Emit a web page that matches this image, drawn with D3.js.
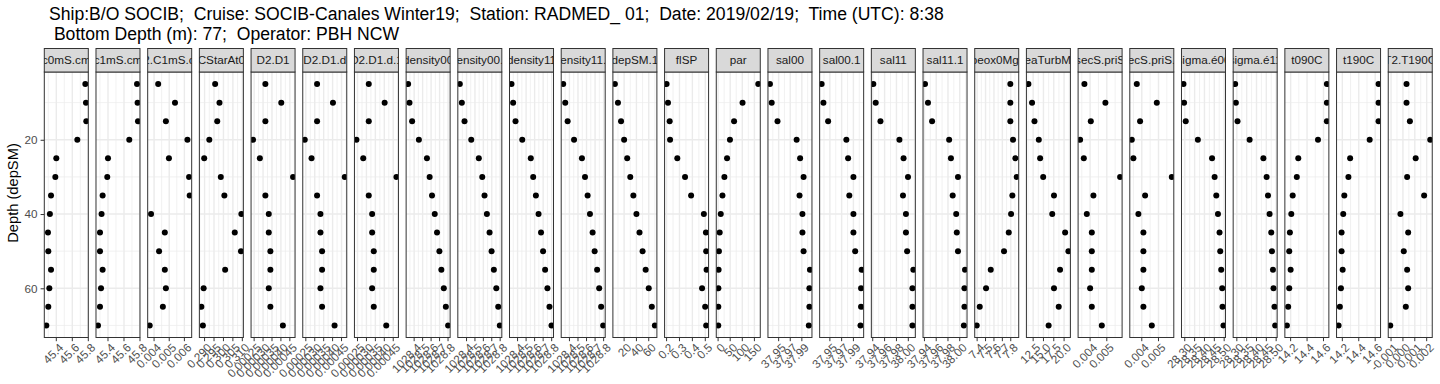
<!DOCTYPE html>
<html>
<head>
<meta charset="utf-8">
<script src="https://cdn.jsdelivr.net/npm/d3@7"></script>
<style>
  body { margin: 0; background: #fff; }
  text { font-family: "Liberation Sans", Arial, Helvetica, sans-serif; white-space: pre; }
</style>
</head>
<body>
<svg id="chart" width="1440" height="384"></svg>
<script>
//----------- DATA ---------------------------//
var titleLines = [
  "Ship:B/O SOCIB;  Cruise: SOCIB-Canales Winter19;  Station: RADMED_ 01;  Date: 2019/02/19;  Time (UTC): 8:38",
  " Bottom Depth (m): 77;  Operator: PBH NCW"
];
var yTitle = "Depth (depSM)";
var depths = [5, 10, 15, 20, 25, 30, 35, 40, 45, 50, 55, 60, 65, 70];
var yTicks = [20, 40, 60];

var varNames = ["c0mS.cm", "c1mS.cm", "C2.C1mS.cm", "CStarAt0", "D2.D1", "D2.D1.d", "D2.D1.d.1",
  "density00", "density00.1", "density11", "density11.1", "depSM.1", "flSP", "par",
  "sal00", "sal00.1", "sal11", "sal11.1", "sbeox0Mg.L", "seaTurbMtr", "secS.priS", "secS.priS.1",
  "sigma.é00", "sigma.é11", "t090C", "t190C", "T2.T190C"];

var c0mS_cm     = [45.763, 45.771, 45.775, 45.663, 45.400, 45.388, 45.334, 45.320, 45.296, 45.300, 45.334, 45.313, 45.300, 45.275];
var c1mS_cm     = [45.763, 45.770, 45.775, 45.666, 45.400, 45.391, 45.333, 45.320, 45.300, 45.300, 45.333, 45.313, 45.300, 45.275];
var C2_C1mS_cm  = [0.00427, 0.00538, 0.00478, 0.00620, 0.00498, 0.00631, 0.00635, 0.00380, 0.00471, 0.00433, 0.00471, 0.00478, 0.00458, 0.00371];
var CStarAt0    = [0.2956, 0.2979, 0.2967, 0.2925, 0.2898, 0.2986, 0.3005, 0.3095, 0.3060, 0.3093, 0.3009, 0.2895, 0.2883, 0.2891];
var D2_D1       = [0.000313, 0.000402, 0.000313, 0.000244, 0.000282, 0.000468, 0.000313, 0.000332, 0.000332, 0.000341, 0.000341, 0.000332, 0.000341, 0.000411];
var D2_D1_d     = [0.000313, 0.000402, 0.000313, 0.000244, 0.000282, 0.000468, 0.000313, 0.000332, 0.000332, 0.000341, 0.000341, 0.000332, 0.000341, 0.000411];
var D2_D1_d_1   = [0.000313, 0.000402, 0.000313, 0.000244, 0.000282, 0.000468, 0.000313, 0.000332, 0.000332, 0.000341, 0.000341, 0.000332, 0.000341, 0.000411];
var density00   = [1028.329, 1028.345, 1028.376, 1028.456, 1028.551, 1028.583, 1028.611, 1028.643, 1028.670, 1028.698, 1028.721, 1028.750, 1028.774, 1028.801];
var density00_1 = [1028.320, 1028.344, 1028.376, 1028.456, 1028.546, 1028.587, 1028.614, 1028.642, 1028.674, 1028.698, 1028.725, 1028.754, 1028.777, 1028.796];
var density11   = [1028.329, 1028.348, 1028.376, 1028.455, 1028.555, 1028.583, 1028.615, 1028.646, 1028.675, 1028.699, 1028.723, 1028.750, 1028.774, 1028.798];
var density11_1 = [1028.327, 1028.351, 1028.379, 1028.454, 1028.546, 1028.582, 1028.613, 1028.640, 1028.671, 1028.695, 1028.724, 1028.748, 1028.771, 1028.795];
var depSM_1     = [5, 10, 15, 20, 25, 30, 35, 40, 45, 50, 55, 60, 65, 70];
var flSP        = [0.200, 0.211, 0.224, 0.227, 0.283, 0.343, 0.390, 0.489, 0.505, 0.507, 0.510, 0.475, 0.499, 0.507];
var par         = [166, 101, 66, 49, 37, 26, 18, 11, 6.5, 3.5, 2.1, 1.2, 0.9, 0.7];
var sal00       = [37.935, 37.938, 37.948, 37.981, 37.987, 37.993, 37.986, 37.991, 37.991, 37.993, 38.004, 38.003, 38.003, 38.002];
var sal00_1     = [37.936, 37.939, 37.947, 37.978, 37.981, 37.990, 37.983, 37.990, 37.990, 37.993, 38.004, 38.003, 38.003, 38.002];
var sal11       = [37.941, 37.945, 37.953, 37.985, 37.992, 37.9995, 37.991, 37.996, 37.996, 37.998, 38.0085, 38.007, 38.007, 38.007];
var sal11_1     = [37.941, 37.946, 37.953, 37.982, 37.985, 37.997, 37.988, 37.994, 37.995, 37.997, 38.009, 38.008, 38.008, 38.007];
var sbeox0Mg_L  = [7.795, 7.795, 7.795, 7.827, 7.855, 7.871, 7.819, 7.804, 7.776, 7.720, 7.562, 7.506, 7.431, 7.395];
var seaTurbMtr  = [11.35, 12.23, 12.82, 13.87, 14.19, 14.93, 17.55, 17.13, 20.25, 21.05, 19.02, 17.55, 18.70, 16.25];
var secS_priS   = [0.003659, 0.004916, 0.004042, 0.003401, 0.003623, 0.005796, 0.004198, 0.003802, 0.004102, 0.004102, 0.004102, 0.004000, 0.004102, 0.004701];
var secS_priS_1 = [0.003700, 0.004898, 0.003898, 0.003401, 0.003497, 0.005796, 0.004198, 0.003796, 0.004096, 0.004096, 0.004096, 0.004000, 0.004096, 0.004599];
var sigma_e00   = [28.2935, 28.2965, 28.305, 28.3665, 28.4385, 28.4515, 28.460, 28.4685, 28.4765, 28.480, 28.485, 28.490, 28.4915, 28.4965];
var sigma_e11   = [28.2915, 28.295, 28.3035, 28.365, 28.435, 28.4515, 28.4585, 28.4665, 28.475, 28.4785, 28.4835, 28.4865, 28.4915, 28.495];
var t090C       = [14.641, 14.641, 14.641, 14.533, 14.293, 14.275, 14.225, 14.208, 14.191, 14.183, 14.200, 14.183, 14.170, 14.154];
var t190C       = [14.641, 14.641, 14.641, 14.533, 14.295, 14.274, 14.224, 14.211, 14.191, 14.191, 14.204, 14.183, 14.170, 14.154];
var T2_T190C    = [0.000303, 0.000303, 0.000586, 0.002300, 0.001074, 0.000354, 0.001786, -0.000211, 0.000440, 0.000071, 0.000354, 0.000440, 0.000243, -0.001069];

// x tick labels for each facet (free scales)
var ticksCond    = ["45.4", "45.6", "45.8"];
var ticksDiffC   = ["0.004", "0.005", "0.006"];
var ticksCStar   = ["0.290", "0.295", "0.300", "0.305", "0.310"];
var ticksDiffD   = ["0.00025", "0.00030", "0.00035", "0.00040", "0.00045"];
var ticksDens    = ["1028.4", "1028.5", "1028.6", "1028.7", "1028.8"];
var ticksDep     = ["20", "40", "60"];
var ticksFl      = ["0.2", "0.3", "0.4", "0.5"];
var ticksPar     = ["0", "50", "100", "150"];
var ticksSal00   = ["37.95", "37.97", "37.99"];
var ticksSal11   = ["37.94", "37.96", "37.98", "38.00"];
var ticksOx      = ["7.4", "7.5", "7.6", "7.7", "7.8"];
var ticksTurb    = ["12.5", "15.0", "17.5", "20.0"];
var ticksSecS    = ["0.004", "0.005"];
var ticksSigma   = ["28.30", "28.35", "28.40", "28.45", "28.50"];
var ticksTemp    = ["14.2", "14.4", "14.6"];
var ticksDiffT   = ["-0.001", "0.000", "0.001", "0.002"];

var panelValues = [c0mS_cm, c1mS_cm, C2_C1mS_cm, CStarAt0, D2_D1, D2_D1_d, D2_D1_d_1,
  density00, density00_1, density11, density11_1, depSM_1, flSP, par,
  sal00, sal00_1, sal11, sal11_1, sbeox0Mg_L, seaTurbMtr, secS_priS, secS_priS_1,
  sigma_e00, sigma_e11, t090C, t190C, T2_T190C];
var panelTicks = [ticksCond, ticksCond, ticksDiffC, ticksCStar, ticksDiffD, ticksDiffD, ticksDiffD,
  ticksDens, ticksDens, ticksDens, ticksDens, ticksDep, ticksFl, ticksPar,
  ticksSal00, ticksSal00, ticksSal11, ticksSal11, ticksOx, ticksTurb, ticksSecS, ticksSecS,
  ticksSigma, ticksSigma, ticksTemp, ticksTemp, ticksDiffT];

//----------- LAYOUT ---------------------------//
var svg = d3.select("#chart");
var panelLeft = 44.3, panelW = 44, panelStep = 51.69;
var stripTop = 48.5, stripH = 23.5;
var panelTop = stripTop + stripH, panelBottom = 337.5;
var greyText = "#4D4D4D", dark = "#333333", gridCol = "#EBEBEB";

svg.append("rect").attr("width", 1440).attr("height", 384).attr("fill", "#fff");

// title
svg.append("g").attr("class", "title")
  .selectAll("text").data(titleLines).enter().append("text")
  .attr("x", 49)
  .attr("y", function(d, i) { return 19.5 + i * 20; })
  .style("font-size", "17.6px")
  .attr("fill", "#000")
  .text(function(d) { return d; });

// shared y scale (reversed depth), expanded 5%
var yExt = d3.extent(depths);
var yPad = (yExt[1] - yExt[0]) * 0.05;
var y = d3.scaleLinear()
  .domain([yExt[0] - yPad, yExt[1] + yPad])
  .range([panelTop, panelBottom]);

// y axis
var yaxis = svg.append("g")
  .attr("class", "yaxis")
  .attr("transform", "translate(" + panelLeft + ",0)")
  .call(d3.axisLeft(y).tickValues(yTicks).tickSize(3.7).tickPadding(3));
yaxis.select(".domain").remove();
yaxis.selectAll(".tick line").attr("stroke", dark);
yaxis.selectAll(".tick text")
  .attr("fill", greyText)
  .style("font-size", "11.7px")
  .style("font-family", "'Liberation Sans', Arial, sans-serif");

svg.append("text")
  .attr("transform", "translate(13," + ((stripTop + panelBottom) / 2) + ") rotate(-90)")
  .attr("text-anchor", "middle")
  .attr("dy", "0.35em")
  .style("font-size", "14.7px")
  .attr("fill", "#000")
  .text(yTitle);

var defs = svg.append("defs");

//----------- FACETS ---------------------------//
varNames.forEach(function(name, i) {
  var L = panelLeft + i * panelStep;
  var vals = panelValues[i];
  var tickLabels = panelTicks[i];
  var tickVals = tickLabels.map(function(t) { return +t; });

  var ext = d3.extent(vals);
  var pad = (ext[1] - ext[0]) * 0.05;
  var x = d3.scaleLinear()
    .domain([ext[0] - pad, ext[1] + pad])
    .range([L, L + panelW]);

  // minor breaks halfway between majors
  var step = tickVals.length > 1 ? tickVals[1] - tickVals[0] : 1;
  var minors = [];
  for (var k = -4; k < tickVals.length + 4; k++) {
    var m = tickVals[0] + (k - 0.5) * step;
    if (m >= x.domain()[0] && m <= x.domain()[1]) minors.push(m);
  }

  var clipId = "clip" + i;
  defs.append("clipPath").attr("id", clipId)
    .append("rect").attr("x", L).attr("y", panelTop).attr("width", panelW).attr("height", panelBottom - panelTop);
  var stripClip = "sclip" + i;
  defs.append("clipPath").attr("id", stripClip)
    .append("rect").attr("x", L).attr("y", stripTop).attr("width", panelW).attr("height", stripH);

  var g = svg.append("g").attr("class", "facet");
  var grid = g.append("g").attr("class", "grid").attr("clip-path", "url(#" + clipId + ")");

  // minor grid
  grid.selectAll(".vminor").data(minors).enter().append("line")
    .attr("x1", function(d) { return x(d); }).attr("x2", function(d) { return x(d); })
    .attr("y1", panelTop).attr("y2", panelBottom)
    .attr("stroke", gridCol).attr("stroke-width", 0.7);
  grid.selectAll(".hminor").data([10, 30, 50, 70]).enter().append("line")
    .attr("x1", L).attr("x2", L + panelW)
    .attr("y1", function(d) { return y(d); }).attr("y2", function(d) { return y(d); })
    .attr("stroke", gridCol).attr("stroke-width", 0.7);
  // major grid
  grid.selectAll(".vmajor").data(tickVals).enter().append("line")
    .attr("x1", function(d) { return x(d); }).attr("x2", function(d) { return x(d); })
    .attr("y1", panelTop).attr("y2", panelBottom)
    .attr("stroke", gridCol).attr("stroke-width", 1.4);
  grid.selectAll(".hmajor").data(yTicks).enter().append("line")
    .attr("x1", L).attr("x2", L + panelW)
    .attr("y1", function(d) { return y(d); }).attr("y2", function(d) { return y(d); })
    .attr("stroke", gridCol).attr("stroke-width", 1.4);

  // points
  g.append("g").attr("clip-path", "url(#" + clipId + ")")
    .selectAll("circle").data(vals).enter().append("circle")
    .attr("cx", function(d) { return x(d); })
    .attr("cy", function(d, j) { return y(depths[j]); })
    .attr("r", 3)
    .attr("fill", "#000");

  // panel border
  g.append("rect")
    .attr("x", L).attr("y", panelTop).attr("width", panelW).attr("height", panelBottom - panelTop)
    .attr("fill", "none").attr("stroke", dark).attr("stroke-width", 1);

  // strip
  g.append("rect")
    .attr("x", L).attr("y", stripTop).attr("width", panelW).attr("height", stripH)
    .attr("fill", "#D9D9D9").attr("stroke", dark).attr("stroke-width", 1);
  g.append("g").attr("clip-path", "url(#" + stripClip + ")")
    .append("text")
    .attr("x", L + panelW / 2).attr("y", stripTop + stripH / 2)
    .attr("dy", "0.35em")
    .attr("text-anchor", "middle")
    .style("font-size", "11.7px")
    .attr("fill", "#1A1A1A")
    .text(name);

  // x axis: ticks + rotated labels
  var xa = g.append("g").attr("class", "xaxis");
  xa.selectAll("line").data(tickVals).enter().append("line")
    .attr("x1", function(d) { return x(d); }).attr("x2", function(d) { return x(d); })
    .attr("y1", panelBottom).attr("y2", panelBottom + 3.7)
    .attr("stroke", dark);
  xa.selectAll("text").data(tickLabels).enter().append("text")
    .attr("transform", function(d, j) {
      return "translate(" + (x(tickVals[j]) + 2) + "," + (panelBottom + 5) + ") rotate(-45)";
    })
    .attr("text-anchor", "end")
    .attr("dy", "0.71em")
    .style("font-size", "11.7px")
    .attr("fill", greyText)
    .text(function(d) { return d; });
});
</script>
</body>
</html>
